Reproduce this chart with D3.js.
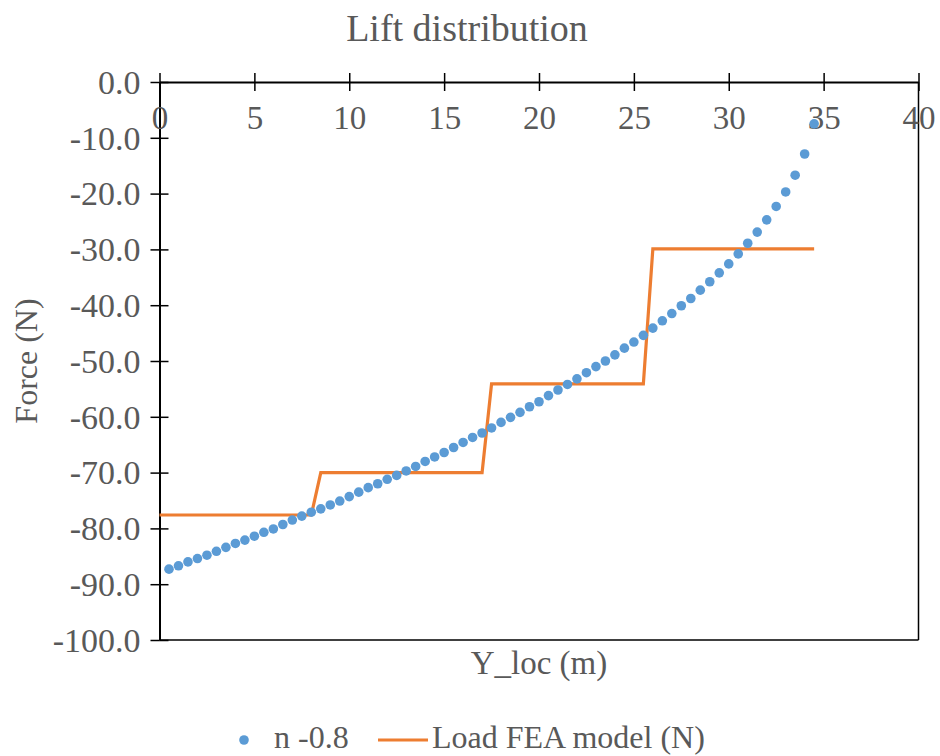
<!DOCTYPE html>
<html>
<head>
<meta charset="utf-8">
<script src="https://cdn.jsdelivr.net/npm/d3@7.9.0/dist/d3.min.js"></script>
<style>
  body { margin: 0; background: #fff; }
  svg text { font-family: "Liberation Serif", "Times New Roman", serif; fill: #595959; }
</style>
</head>
<body>
<svg id="chart" width="940" height="756"></svg>
<script>
const yLoc = [
  0.5, 1.0, 1.5, 2.0, 2.5, 3.0, 3.5, 4.0, 4.5, 5.0, 5.5, 6.0, 6.5, 7.0, 7.5, 8.0, 8.5, 9.0,
  9.5, 10.0, 10.5, 11.0, 11.5, 12.0, 12.5, 13.0, 13.5, 14.0, 14.5, 15.0, 15.5, 16.0, 16.5, 17.0,
  17.5, 18.0, 18.5, 19.0, 19.5, 20.0, 20.5, 21.0, 21.5, 22.0, 22.5, 23.0, 23.5, 24.0, 24.5, 25.0,
  25.5, 26.0, 26.5, 27.0, 27.5, 28.0, 28.5, 29.0, 29.5, 30.0, 30.5, 31.0, 31.5, 32.0, 32.5, 33.0,
  33.5, 34.0, 34.5
];
const liftN08 = [
  -87.3, -86.7, -86.0, -85.4, -84.8, -84.1, -83.4, -82.7, -82.1, -81.4, -80.7, -80.1, -79.3, -78.5, -77.8, -77.1, -76.5, -75.8,
  -75.1, -74.3, -73.5, -72.7, -72.0, -71.2, -70.5, -69.7, -68.9, -68.0, -67.2, -66.4, -65.5, -64.6, -63.7, -62.9,
  -62.0, -61.0, -60.1, -59.2, -58.2, -57.3, -56.2, -55.2, -54.2, -53.2, -52.1, -51.0, -50.0, -48.9, -47.7, -46.6,
  -45.4, -44.1, -42.8, -41.5, -40.1, -38.8, -37.3, -35.8, -34.2, -32.6, -30.8, -28.9, -26.9, -24.7, -22.3, -19.7,
  -16.7, -12.9, -7.5
];
const feaX = [0, 8.0, 8.5, 17.0, 17.5, 25.5, 26.0, 34.5];
const feaLoad = [-77.6, -77.6, -70.0, -70.0, -54.1, -54.1, -29.9, -29.9];

const xTicks = [0, 5, 10, 15, 20, 25, 30, 35, 40];
const yTicks = [0, -10, -20, -30, -40, -50, -60, -70, -80, -90, -100];

const blue = "#5B9BD5";
const orange = "#ED7D31";

const svg = d3.select("#chart");
const area = { left: 159.5, right: 918.5, top: 82, bottom: 640 };

const x = d3.scaleLinear().domain([0, 40]).range([area.left, area.right]);
const y = d3.scaleLinear().domain([0, -100]).range([area.top, area.bottom]);

// title
svg.append("text")
  .attr("x", 467).attr("y", 41)
  .attr("text-anchor", "middle")
  .style("font-size", "38px")
  .text("Lift distribution");

// plot border (right and bottom)
svg.append("line")
  .attr("x1", area.right).attr("x2", area.right)
  .attr("y1", area.top).attr("y2", area.bottom)
  .attr("stroke", "#000").attr("stroke-width", 1.5);
svg.append("line")
  .attr("x1", area.left).attr("x2", area.right)
  .attr("y1", area.bottom).attr("y2", area.bottom)
  .attr("stroke", "#000").attr("stroke-width", 1.5);

// y axis
const yAxis = svg.append("g").attr("transform", `translate(${area.left},0)`)
  .call(d3.axisLeft(y).tickValues(yTicks).tickFormat(d => d.toFixed(1)).tickSize(9).tickSizeOuter(0));
yAxis.selectAll("line").clone().attr("x2", 9);
yAxis.select(".domain").attr("stroke-width", 2);
yAxis.selectAll("line").attr("stroke-width", 1.5);
yAxis.selectAll("text")
  .attr("x", -19)
  .attr("dy", "0.33em")
  .style("font-size", "34px")
  .style("font-family", "Liberation Serif, serif")
  .attr("fill", "#595959");

// x axis on the zero line
const xAxis = svg.append("g").attr("transform", `translate(0,${y(0)})`)
  .call(d3.axisBottom(x).tickValues(xTicks).tickSize(9).tickSizeOuter(0));
xAxis.selectAll("line").clone().attr("y2", -9);
xAxis.select(".domain").attr("stroke-width", 2);
xAxis.selectAll("line").attr("stroke-width", 1.5);
xAxis.selectAll("text")
  .attr("y", 47)
  .attr("dy", 0)
  .style("font-size", "33px")
  .style("font-family", "Liberation Serif, serif")
  .attr("fill", "#595959");
svg.selectAll(".domain").attr("stroke", "#000");
svg.selectAll(".tick line").attr("stroke", "#000");

// axis titles
svg.append("text")
  .attr("transform", `translate(37,${(area.top + area.bottom) / 2}) rotate(-90)`)
  .attr("text-anchor", "middle")
  .style("font-size", "32px")
  .text("Force (N)");
svg.append("text")
  .attr("x", (area.left + area.right) / 2).attr("y", 674)
  .attr("text-anchor", "middle")
  .style("font-size", "33px")
  .text("Y_loc (m)");

// FEA step line
const line = d3.line().x((d, i) => x(feaX[i])).y(d => y(d));
svg.append("path")
  .datum(feaLoad)
  .attr("fill", "none")
  .attr("stroke", orange)
  .attr("stroke-width", 3.2)
  .attr("stroke-linejoin", "miter")
  .attr("d", line);

// lift points
svg.append("g").selectAll("circle")
  .data(liftN08)
  .join("circle")
  .attr("cx", (d, i) => x(yLoc[i]))
  .attr("cy", d => y(d))
  .attr("r", 4.8)
  .attr("fill", blue);

// legend
const legend = svg.append("g");
legend.append("circle").attr("cx", 244).attr("cy", 740).attr("r", 4.8).attr("fill", blue);
legend.append("text").attr("x", 274).attr("y", 748).style("font-size", "32px").text("n -0.8");
legend.append("line").attr("x1", 378).attr("x2", 428).attr("y1", 740).attr("y2", 740)
  .attr("stroke", orange).attr("stroke-width", 3.2);
legend.append("text").attr("x", 432).attr("y", 748).style("font-size", "32px").text("Load FEA model (N)");
</script>
</body>
</html>
